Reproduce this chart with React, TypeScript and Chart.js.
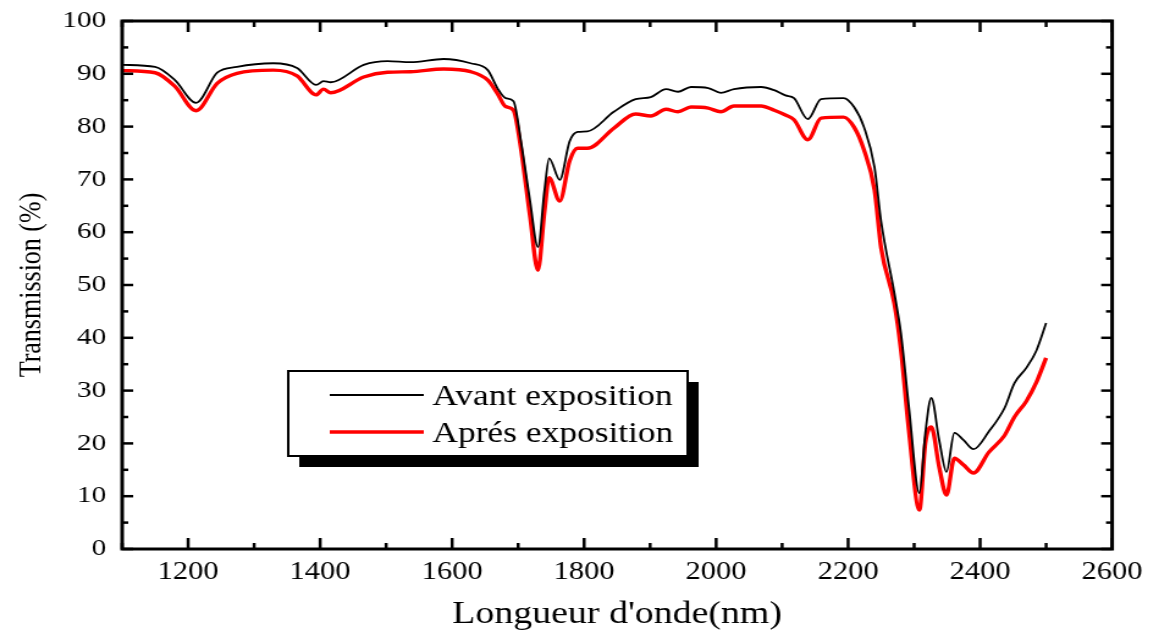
import { useEffect, useRef } from "react";
import { Chart, registerables } from "chart.js";

Chart.register(...registerables);

// ---- Data ----
const wavelengths = [
  1100, 1150, 1180, 1212, 1244, 1274, 1329, 1365, 1394, 1405, 1416, 1466, 1502, 1537, 1587, 1628,
  1654, 1669, 1681, 1693, 1704, 1718, 1730, 1740, 1747, 1763, 1778, 1790, 1805, 1845, 1878, 1901,
  1924, 1942, 1962, 1988, 2007, 2027, 2068, 2088, 2105, 2118, 2139, 2159, 2193, 2209, 2224, 2240,
  2250, 2270, 2280, 2292, 2308, 2317, 2326, 2338, 2349, 2361, 2375, 2390, 2413, 2437, 2452, 2470,
  2485, 2500,
];

const avantExposition = [
  91.7, 91.3, 88.8, 84.5, 90.2, 91.3, 92.0, 91.1, 87.9, 88.6, 88.4, 91.7, 92.4, 92.2, 92.8, 92.0,
  90.7, 87.2, 85.4, 84.8, 77.5, 66.0, 57.2, 68.0, 74.0, 69.9, 77.2, 79.0, 79.1, 82.8, 85.2, 85.6,
  87.1, 86.6, 87.5, 87.3, 86.4, 87.1, 87.5, 86.9, 85.9, 85.4, 81.4, 85.2, 85.4, 83.7, 79.9, 72.3,
  62.0, 48.5, 40.9, 27.0, 10.6, 22.0, 28.6, 20.6, 14.6, 22.0, 20.6, 18.9, 22.2, 26.7, 31.4, 34.3,
  37.5, 42.8,
];

const apresExposition = [
  90.6, 90.2, 87.6, 83.0, 88.2, 90.1, 90.7, 89.6, 86.0, 87.1, 86.4, 89.4, 90.3, 90.4, 90.9, 90.4,
  88.8, 86.2, 83.8, 83.1, 76.0, 63.0, 52.8, 64.0, 70.3, 65.9, 73.5, 75.9, 75.9, 79.7, 82.4, 82.0,
  83.3, 82.8, 83.7, 83.5, 82.8, 83.9, 83.9, 83.1, 82.2, 81.3, 77.5, 81.6, 81.8, 79.9, 75.6, 68.0,
  57.0, 46.5, 37.7, 22.5, 7.4, 20.0, 23.1, 15.5, 10.2, 17.2, 15.9, 14.4, 18.3, 21.5, 25.0, 28.0,
  31.5, 36.2,
];

const seriesLabels = ["Avant exposition", "Aprés exposition"];
const seriesColors = ["#000000", "#ff0000"];
const xTitle = "Longueur d'onde(nm)";
const yTitle = "Transmission (%)";
const xMin = 1100;
const xMax = 2600;
const xStep = 100;
const xLabelStep = 200;
const yMin = 0;
const yMax = 100;
const yStep = 10;
const yMinorStep = 5;

// The reference figure is horizontally stretched; reproduce that.
const STRETCH = 1.22;
const CANVAS_W = 1150 / STRETCH;
const CANVAS_H = 637;
const FONT = "'Liberation Serif', 'Times New Roman', serif";

const framePlugin = {
  id: "frameTicksLegend",
  afterDraw(chart: any) {
    const { ctx, chartArea, scales } = chart;
    const { left, right, top, bottom } = chartArea;
    const xs = scales.x;
    const ys = scales.y;
    ctx.save();
    ctx.strokeStyle = "#000";
    ctx.lineCap = "butt";
    ctx.lineWidth = 2.5;
    const seg = (x1: number, y1: number, x2: number, y2: number) => {
      ctx.beginPath();
      ctx.moveTo(x1, y1);
      ctx.lineTo(x2, y2);
      ctx.stroke();
    };
    for (let v = xMin; v <= xMax; v += xStep) {
      const px = xs.getPixelForValue(v);
      const len = v % xLabelStep === 0 ? 11 : 6;
      seg(px, bottom, px, bottom - len);
      seg(px, top, px, top + len);
    }
    for (let v = yMin; v <= yMax; v += yMinorStep) {
      const py = ys.getPixelForValue(v);
      const len = v % yStep === 0 ? 9 : 5;
      seg(left, py, left + len, py);
      seg(right, py, right - len, py);
    }
    ctx.lineWidth = 3;
    ctx.strokeRect(left, top, right - left, bottom - top);

    // Legend box with drop shadow
    const bx = left + 136;
    const by = top + 350;
    const bw = 327;
    const bh = 85;
    ctx.fillStyle = "#000";
    ctx.fillRect(bx + 9, by + 11, bw, bh);
    ctx.fillStyle = "#fff";
    ctx.fillRect(bx, by, bw, bh);
    ctx.lineWidth = 2;
    ctx.strokeRect(bx, by, bw, bh);
    const datasets = chart.data.datasets;
    const rows = [24, 61];
    datasets.forEach((ds: any, i: number) => {
      const ly = by + rows[i];
      ctx.strokeStyle = ds.borderColor;
      ctx.lineWidth = ds.borderWidth;
      seg(bx + 34, ly, bx + 111, ly);
      ctx.fillStyle = "#000";
      ctx.font = `29px ${FONT}`;
      ctx.textBaseline = "alphabetic";
      ctx.textAlign = "left";
      ctx.fillText(ds.label, bx + 118, ly + 10);
    });
    ctx.restore();
  },
};

export default function App() {
  const canvasRef = useRef<HTMLCanvasElement | null>(null);

  useEffect(() => {
    document.body.style.margin = "0";
    document.body.style.background = "#fff";
    const canvas = canvasRef.current;
    if (!canvas) return;
    const makePoints = (ys: number[]) => wavelengths.map((x, i) => ({ x, y: ys[i] }));
    const chart = new Chart(canvas, {
      type: "line",
      data: {
        datasets: [
          {
            label: seriesLabels[0],
            data: makePoints(avantExposition),
            borderColor: seriesColors[0],
            borderWidth: 1.8,
            pointRadius: 0,
            cubicInterpolationMode: "monotone",
            fill: false,
          },
          {
            label: seriesLabels[1],
            data: makePoints(apresExposition),
            borderColor: seriesColors[1],
            borderWidth: 3.4,
            pointRadius: 0,
            cubicInterpolationMode: "monotone",
            fill: false,
          },
        ],
      },
      options: {
        animation: false,
        responsive: true,
        maintainAspectRatio: false,
        layout: { padding: { top: 21, right: 32, left: 0, bottom: 0 } },
        plugins: { legend: { display: false }, tooltip: { enabled: false } },
        scales: {
          x: {
            type: "linear",
            min: xMin,
            max: xMax,
            afterFit: (s: any) => {
              s.height = 88;
              s.paddingLeft = 0;
              s.paddingRight = 0;
            },
            grid: { display: false, drawTicks: false },
            border: { display: false },
            ticks: {
              stepSize: xStep,
              autoSkip: false,
              maxRotation: 0,
              padding: 8,
              color: "#000",
              font: { family: FONT, size: 25 },
              callback: (v: any) => (Number(v) % xLabelStep === 0 ? String(v) : ""),
            },
            title: {
              display: true,
              text: xTitle,
              color: "#000",
              font: { family: FONT, size: 31 },
              padding: { top: 4, bottom: 4 },
            },
          },
          y: {
            type: "linear",
            min: yMin,
            max: yMax,
            afterFit: (s: any) => {
              s.width = 100;
              s.paddingTop = 0;
              s.paddingBottom = 0;
            },
            grid: { display: false, drawTicks: false },
            border: { display: false },
            ticks: {
              stepSize: yStep,
              padding: 13,
              color: "#000",
              font: { family: FONT, size: 24 },
            },
            title: {
              display: true,
              text: yTitle,
              color: "#000",
              font: { family: FONT, size: 26 },
              padding: { top: 11, bottom: 0 },
            },
          },
        },
      },
      plugins: [framePlugin],
    });
    return () => chart.destroy();
  }, []);

  return (
    <div
      style={{
        position: "fixed",
        left: 0,
        top: 0,
        width: CANVAS_W,
        height: CANVAS_H,
        transform: `scaleX(${STRETCH})`,
        transformOrigin: "0 0",
      }}
    >
      <canvas ref={canvasRef} />
    </div>
  );
}
